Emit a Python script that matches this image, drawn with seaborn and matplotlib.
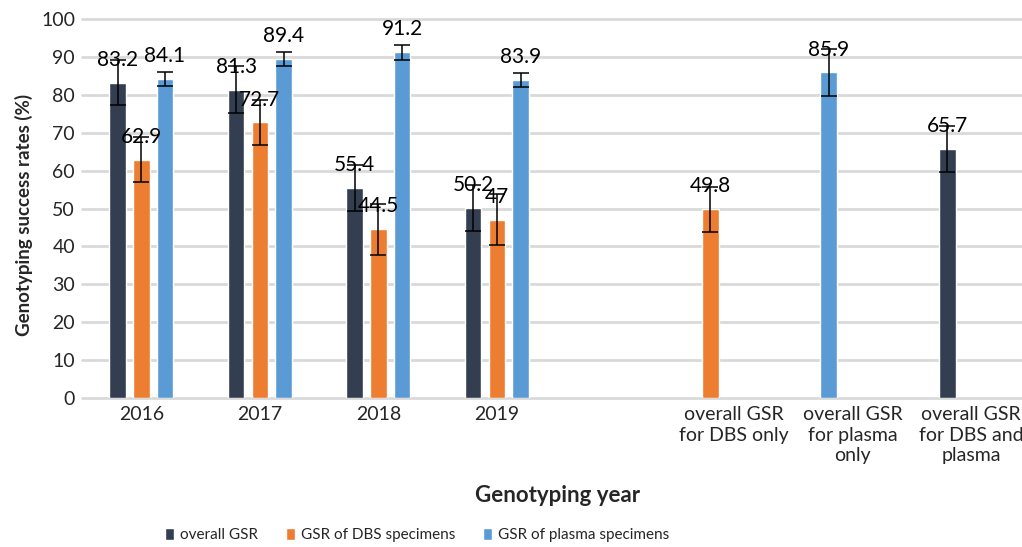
import numpy as np
import pandas as pd
import matplotlib.pyplot as plt
import seaborn as sns

# Data
categories = ['2016', '2017', '2018', '2019', '',
              'overall GSR\nfor DBS only', 'overall GSR\nfor plasma\nonly',
              'overall GSR\nfor DBS and\nplasma']
series = ['overall GSR', 'GSR of DBS specimens', 'GSR of plasma specimens']

overall_cat = [0, 1, 2, 3, 7]
overall_val = [83.2, 81.3, 55.4, 50.2, 65.7]
overall_err = [6.0, 6.2, 6.1, 6.1, 6.1]

dbs_cat = [0, 1, 2, 3, 5]
dbs_val = [62.9, 72.7, 44.5, 47, 49.8]
dbs_err = [6.0, 6.0, 6.7, 6.7, 6.0]

plasma_cat = [0, 1, 2, 3, 6]
plasma_val = [84.1, 89.4, 91.2, 83.9, 85.9]
plasma_err = [1.9, 1.9, 1.9, 1.9, 6.1]

colors = ['#333f50', '#ed7d31', '#5b9bd5']

sns.set_theme(style='white')
plt.rcParams['font.family'] = ['Lato', 'DejaVu Sans']

# slot offset inside a category: grouped years use 3 slots,
# the single "overall" bars sit in the left slot like in the original
def slot(cat, k):
    if cat <= 3:
        return cat + (k - 1) * 0.2
    return cat - 0.2

rows = []
for k, (cats, vals, errs) in enumerate([(overall_cat, overall_val, overall_err),
                                        (dbs_cat, dbs_val, dbs_err),
                                        (plasma_cat, plasma_val, plasma_err)]):
    for c, v, e in zip(cats, vals, errs):
        rows.append({'pos': round(slot(c, k), 3), 'value': v, 'err': e,
                     'series': series[k]})
df = pd.DataFrame(rows)

fig = plt.figure(figsize=(10.22, 5.47), dpi=100)
ax = fig.add_axes([82 / 1022, 1 - 398 / 547, 940 / 1022, 379 / 547])

sns.barplot(data=df, x='pos', y='value', hue='series', hue_order=series,
            palette=colors, native_scale=True, dodge=False, width=0.7,
            errorbar=None, ax=ax, saturation=1, legend=True)

for s in series:
    d = df[df['series'] == s]
    ax.errorbar(d['pos'], d['value'], yerr=d['err'], fmt='none',
                ecolor='black', elinewidth=1.1, capsize=6, capthick=1.1)
    for x, v in zip(d['pos'], d['value']):
        ax.annotate(f'{v:g}', (x, v), xytext=(0, 16.5), textcoords='offset points',
                    ha='center', va='center', fontsize=15, color='black')

ax.set_xlim(-0.5, 7.43)
ax.set_ylim(0, 100)
ax.set_yticks(range(0, 101, 10))
ax.set_xticks(range(len(categories)))
ax.set_xticklabels(categories, fontsize=14, linespacing=1.25)
ax.tick_params(axis='y', labelsize=14, pad=5, length=0)
ax.tick_params(axis='x', pad=6, length=0)
ax.yaxis.grid(True, color='#d9d9d9', linewidth=2)
ax.set_axisbelow(True)
for line in ax.get_ygridlines():
    line.set_clip_on(False)
sns.despine(ax=ax, left=True, bottom=True)

ax.set_xlabel('Genotyping year', fontsize=16, fontweight='bold')
ax.xaxis.set_label_coords((558 - 82) / 940, (398 - 495) / 379)
ax.xaxis.label.set_va('center')
ax.set_ylabel('Genotyping success rates (%)', fontsize=13.5, fontweight='bold')
ax.yaxis.set_label_coords((24 - 82) / 940, (398 - 215) / 379)
ax.yaxis.label.set_va('center')

handles, labels = ax.get_legend_handles_labels()
ax.legend(handles, labels, loc='center', bbox_to_anchor=(417 / 1022, 1 - 535 / 547),
          bbox_transform=fig.transFigure, ncol=3, frameon=False, fontsize=11,
          handlelength=0.6, handleheight=0.9, handletextpad=0.4, columnspacing=1.8)

fig.savefig('out.png', dpi=100)
